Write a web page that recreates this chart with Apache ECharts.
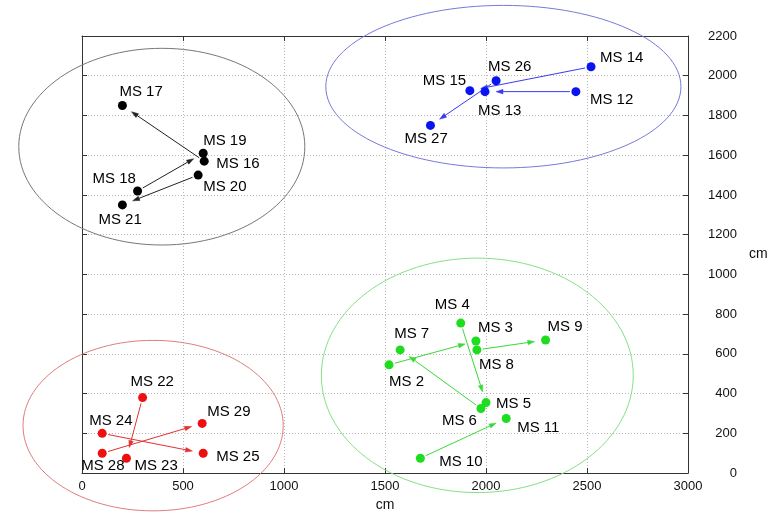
<!DOCTYPE html>
<html><head><meta charset="utf-8">
<script src="https://cdn.jsdelivr.net/npm/echarts@6/dist/echarts.min.js"></script>
<style>html,body{margin:0;padding:0;background:#fff}#c{width:775px;height:517px}</style>
</head><body><div id="c"></div>
<script>
// ---- data ----
const blackNames = ['MS 16','MS 17','MS 18','MS 19','MS 20','MS 21'];
const blackX = [605, 200, 275, 600, 575, 200];
const blackY = [1570, 1850, 1420, 1610, 1500, 1350];

const blueNames = ['MS 12','MS 13','MS 14','MS 15','MS 26','MS 27'];
const blueX = [2445, 1995, 2520, 1920, 2050, 1725];
const blueY = [1920, 1920, 2045, 1925, 1975, 1750];

const greenNames = ['MS 2','MS 3','MS 4','MS 5','MS 6','MS 7','MS 8','MS 9','MS 10','MS 11'];
const greenX = [1520, 1950, 1875, 2000, 1975, 1575, 1955, 2295, 1675, 2100];
const greenY = [545, 665, 755, 355, 325, 620, 620, 670, 75, 275];

const redNames = ['MS 22','MS 23','MS 24','MS 25','MS 28','MS 29'];
const redX = [300, 220, 100, 600, 100, 595];
const redY = [380, 75, 200, 100, 100, 250];

const arrowFrom = ['MS 16','MS 18','MS 20','MS 12','MS 14','MS 26','MS 2','MS 4','MS 6','MS 8','MS 10','MS 22','MS 24','MS 28'];
const arrowTo   = ['MS 17','MS 19','MS 21','MS 13','MS 15','MS 27','MS 3','MS 5','MS 7','MS 9','MS 11','MS 23','MS 25','MS 29'];

const ellipseCX = [395, 2086, 1957, 352];
const ellipseCY = [1643, 1945, 492, 239];
const ellipseRX = [708, 879, 772, 644];
const ellipseRY = [495, 409, 590, 429];

const xTicks = [0, 500, 1000, 1500, 2000, 2500, 3000];
const yTicks = [0, 200, 400, 600, 800, 1000, 1200, 1400, 1600, 1800, 2000, 2200];

// ---- styles / layout ----
const FONT = "'Liberation Sans', Arial, sans-serif";
const groups = [
  {names: blackNames, xs: blackX, ys: blackY, color: '#000000', ell: '#777777', arrow: '#222222'},
  {names: blueNames,  xs: blueX,  ys: blueY,  color: '#0a14f0', ell: '#7878dc', arrow: '#3a3af0'},
  {names: greenNames, xs: greenX, ys: greenY, color: '#1edc1e', ell: '#86e086', arrow: '#3ad83a'},
  {names: redNames,   xs: redX,   ys: redY,   color: '#ee1010', ell: '#e07c7c', arrow: '#e43030'}
];
// label offsets (px) : [dx of text left edge, dy of text middle]
const labelOffset = {
  'MS 17':[-3,-14],'MS 19':[0,-12],'MS 16':[12,3],'MS 20':[5,12],'MS 18':[-45,-12],'MS 21':[-24,15],
  'MS 14':[9,-9],'MS 12':[14,8],'MS 26':[-8,-14],'MS 15':[-47,-10],'MS 13':[-7,19],'MS 27':[-26,13],
  'MS 4':[-26,-18],'MS 3':[2,-13],'MS 8':[2,15],'MS 9':[2,-13],'MS 7':[-6,-16],'MS 2':[0,17],
  'MS 5':[10,1],'MS 6':[-39,12],'MS 11':[11,9],'MS 10':[19,4],
  'MS 22':[-12,-16],'MS 24':[-13,-13],'MS 28':[-21,13],'MS 23':[8,8],'MS 29':[5,-12],'MS 25':[13,4]
};

// lookup of point positions
const lookup = {};
groups.forEach((g, gi) => g.names.forEach((n, i) => { lookup[n] = {x: g.xs[i], y: g.ys[i], g: gi}; }));

const series = [];

// ellipses
series.push({
  type: 'custom', clip: false, silent: true, z: 1,
  data: ellipseCX.map((cx, i) => ({value: [cx, ellipseCY[i], ellipseRX[i], ellipseRY[i]], itemStyle: {color: groups[i].ell}})),
  encode: {x: 0, y: 1},
  renderItem: function (params, api) {
    const c = api.coord([api.value(0), api.value(1)]);
    const s = api.size([api.value(2), api.value(3)]);
    return {type: 'ellipse', shape: {cx: c[0], cy: c[1], rx: s[0], ry: s[1]},
      style: {fill: 'none', stroke: api.visual('color'), lineWidth: 1}};
  }
});

// arrows
series.push({
  type: 'custom', clip: false, silent: true, z: 2,
  data: arrowFrom.map((f, i) => {
    const a = lookup[f], b = lookup[arrowTo[i]];
    return {value: [a.x, a.y, b.x, b.y], itemStyle: {color: groups[a.g].arrow}};
  }),
  encode: {x: [0, 2], y: [1, 3]},
  renderItem: function (params, api) {
    const p1 = api.coord([api.value(0), api.value(1)]);
    const p2 = api.coord([api.value(2), api.value(3)]);
    const dx = p2[0] - p1[0], dy = p2[1] - p1[1];
    const L = Math.sqrt(dx * dx + dy * dy);
    const ux = dx / L, uy = dy / L;
    const s = [p1[0] + ux * 6, p1[1] + uy * 6];
    const e = [p2[0] - ux * 11, p2[1] - uy * 11];
    const hl = 7, hw = 2.3;
    const b = [e[0] - ux * hl, e[1] - uy * hl];
    const col = api.visual('color');
    return {type: 'group', children: [
      {type: 'line', shape: {x1: s[0], y1: s[1], x2: b[0], y2: b[1]}, style: {stroke: col, lineWidth: 1}},
      {type: 'polygon', shape: {points: [e, [b[0] - uy * hw, b[1] + ux * hw], [b[0] + uy * hw, b[1] - ux * hw]]},
        style: {fill: col, stroke: col, lineWidth: 0.5}}
    ]};
  }
});

// points
groups.forEach((g) => {
  series.push({
    type: 'scatter', z: 3, symbol: 'circle', symbolSize: 9, clip: false,
    itemStyle: {color: g.color, opacity: 1},
    data: g.names.map((n, i) => ({
      name: n, value: [g.xs[i], g.ys[i]],
      label: {offset: labelOffset[n] || [6, -10]}
    })),
    label: {show: true, position: 'inside', align: 'left', verticalAlign: 'middle',
      formatter: '{b}', color: '#000', fontSize: 15, fontFamily: FONT},
    emphasis: {disabled: true}
  });
});

const axisLineStyle = {show: true, onZero: false, lineStyle: {color: '#333', width: 1}};
const tickStyle = {show: true, inside: true, length: 5, lineStyle: {color: '#333'}};
const gridLine = {show: true, lineStyle: {color: '#b8b8b8', type: [1, 2], width: 1}};
const plain = (v) => String(v);

const option = {
  backgroundColor: '#fff',
  animation: false,
  grid: {left: 82, right: 87, top: 36, bottom: 40, containLabel: false},
  xAxis: [
    {type: 'value', position: 'bottom', min: xTicks[0], max: xTicks[xTicks.length - 1], interval: xTicks[1] - xTicks[0],
      name: 'cm', nameLocation: 'middle', nameGap: 24,
      nameTextStyle: {fontSize: 14, color: '#111', fontFamily: FONT},
      axisLine: axisLineStyle, axisTick: tickStyle,
      axisLabel: {fontSize: 13, color: '#111', fontFamily: FONT, margin: 7, formatter: plain},
      splitLine: gridLine},
    {type: 'value', position: 'top', min: xTicks[0], max: xTicks[xTicks.length - 1], interval: xTicks[1] - xTicks[0],
      axisLine: axisLineStyle, axisTick: tickStyle,
      axisLabel: {show: false}, splitLine: {show: false}}
  ],
  yAxis: [
    {type: 'value', position: 'right', min: yTicks[0], max: yTicks[yTicks.length - 1], interval: yTicks[1] - yTicks[0],
      name: 'cm', nameLocation: 'middle', nameGap: 61, nameRotate: 0,
      nameTextStyle: {fontSize: 14, color: '#111', fontFamily: FONT, align: 'left', verticalAlign: 'middle'},
      axisLine: axisLineStyle, axisTick: tickStyle,
      axisLabel: {fontSize: 13, color: '#111', fontFamily: FONT, margin: 49, align: 'right', formatter: plain},
      splitLine: gridLine},
    {type: 'value', position: 'left', min: yTicks[0], max: yTicks[yTicks.length - 1], interval: yTicks[1] - yTicks[0],
      axisLine: axisLineStyle, axisTick: tickStyle,
      axisLabel: {show: false}, splitLine: {show: false}}
  ],
  series: series
};

const chart = echarts.init(document.getElementById('c'), null, {renderer: 'canvas'});
chart.setOption(option);
</script></body></html>
